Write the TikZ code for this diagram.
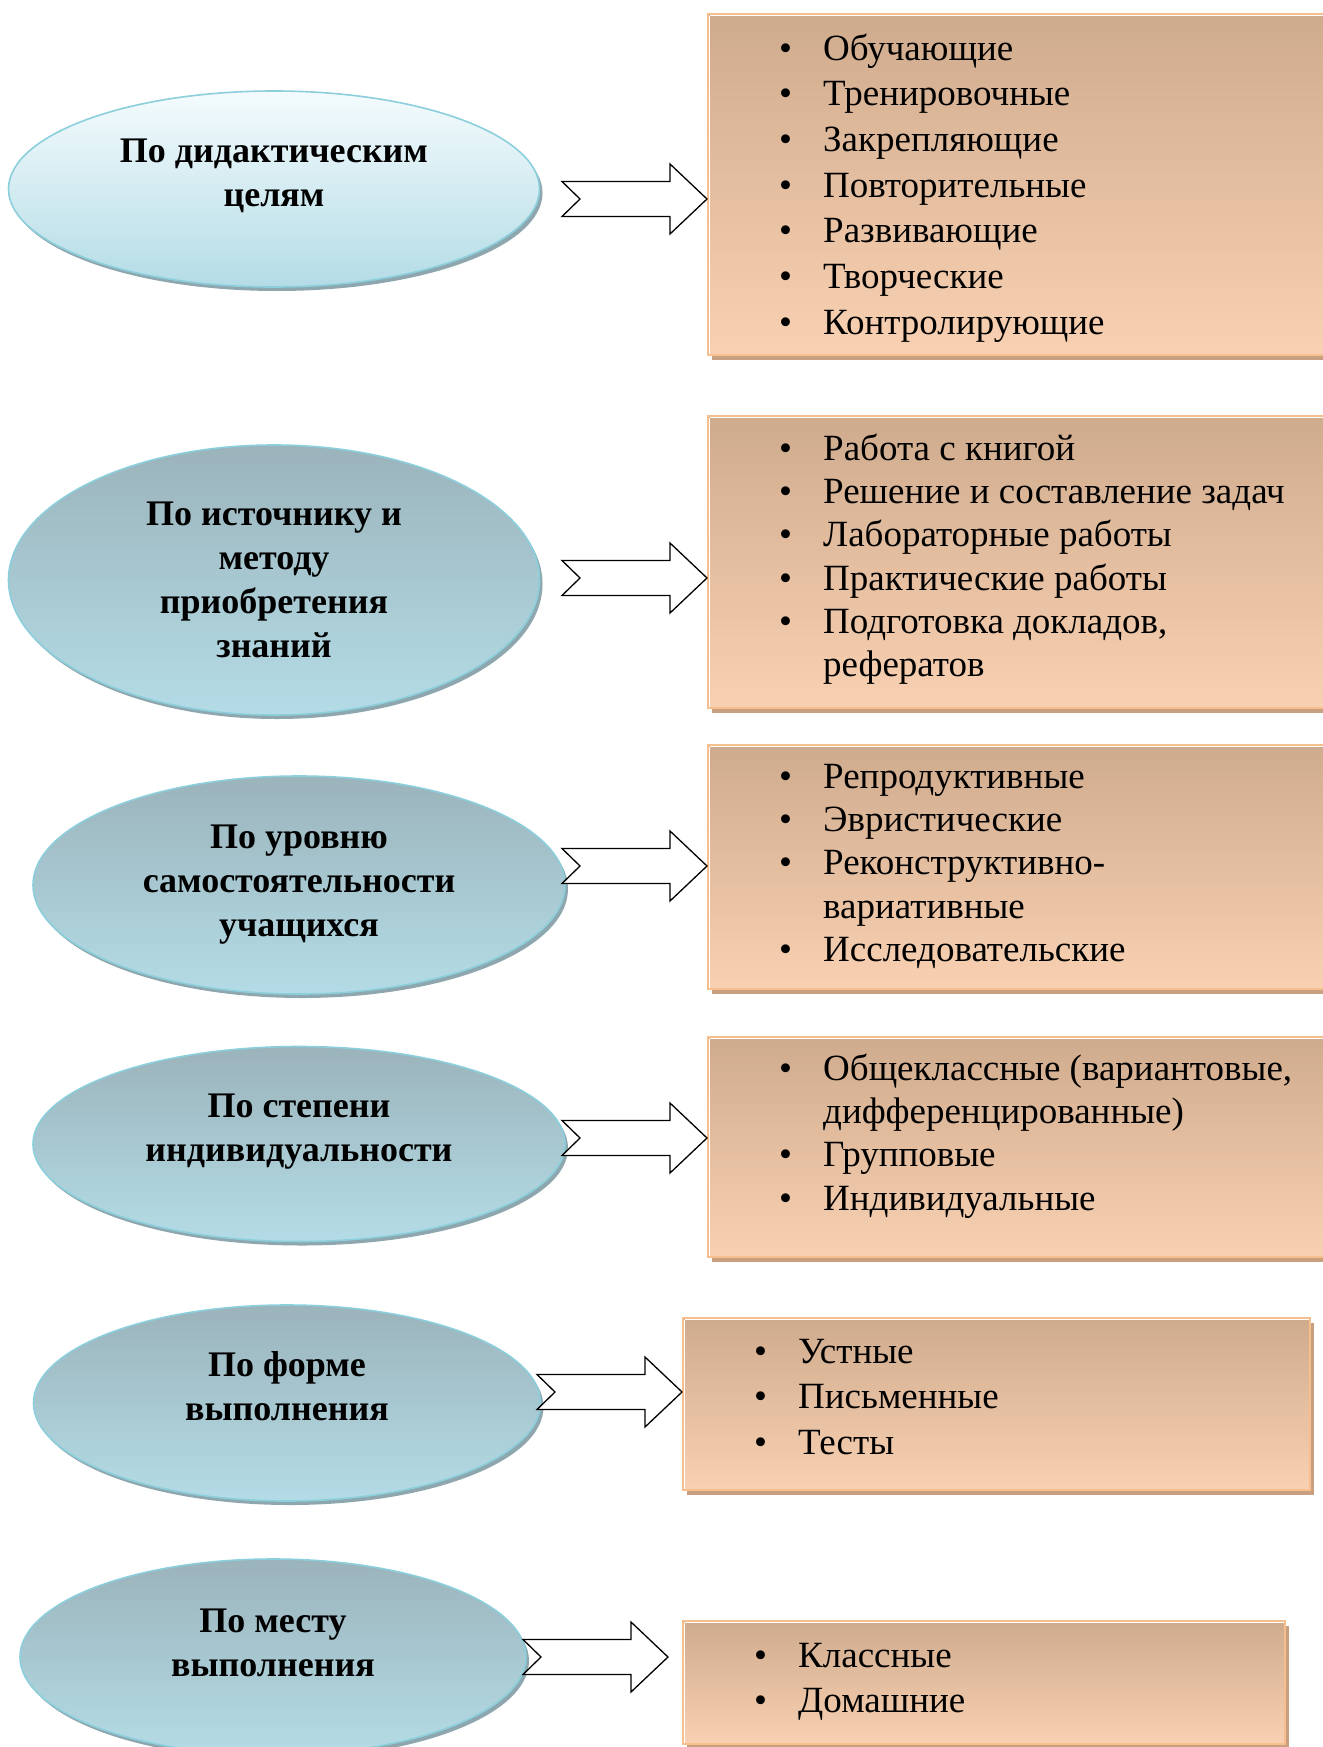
\documentclass[tikz,border=0pt]{standalone}
\usepackage{fontspec}
\setmainfont{Liberation Serif}
\usetikzlibrary{shapes.geometric,shadows,positioning,calc}
\definecolor{skyedge}{HTML}{8CCFDC}
\definecolor{skytop}{HTML}{9BB3BB}
\definecolor{skylite}{HTML}{F4FBFD}
\definecolor{skybot}{HTML}{B4DCE6}
\definecolor{skyshade}{HTML}{8EA6AE}
\definecolor{tantop}{HTML}{CFAB8D}
\definecolor{tanbot}{HTML}{F9D1B2}
\definecolor{tanedge}{HTML}{F8BF8E}
\definecolor{tanshade}{HTML}{C8A07F}
\tikzset{crit/.style={ellipse,draw=skyedge,line width=1.6pt,top color=skytop,bottom color=skybot,drop shadow={shadow xshift=3pt,shadow yshift=-4pt,opacity=1,fill=skyshade},align=center,font=\fontsize{36}{44}\selectfont\bfseries,inner sep=0pt},
twoline/.style={text height=74.8pt,text depth=39pt},
sorts/.style={draw=tanedge,line width=2.2pt,top color=tantop,bottom color=tanbot,drop shadow={shadow xshift=4pt,shadow yshift=-5pt,opacity=1,fill=tanshade},anchor=north west,inner sep=0pt,
  append after command={([shift={(2.6pt,2.6pt)}]\tikzlastnode.south west) edge[draw=white,line width=1.2pt] ([shift={(2.6pt,-2.6pt)}]\tikzlastnode.north west) ([shift={(2.6pt,-2.6pt)}]\tikzlastnode.north west) edge[draw=white,line width=1.2pt] ([shift={(-2.6pt,-2.6pt)}]\tikzlastnode.north east)}},
items/.style={anchor=north west,align=left,inner sep=0pt,font=\fontsize{37}{45.7}\selectfont},
tight/.style={font=\fontsize{37}{43.2}\selectfont},
fat/.style={draw=black,line width=1.3pt,fill=white,line join=miter},
notched/.pic={\draw[fat] (0,0) -- (-37,-35) -- (-37,-17.5) -- (-145,-17.5) -- (-127,0) -- (-145,17.5) -- (-37,17.5) -- (-37,35) -- cycle;}}
\newcommand{\itm}{\strut\makebox[44pt][l]{\textbullet}}
\newcommand{\cnt}{\strut\hspace*{44pt}}

\begin{document}
\begin{tikzpicture}[x=1pt,y=-1pt]
\fill[white] (0,0) rectangle (1322,1747);
\useasboundingbox (0,0) rectangle (1322,1747);
% criteria
\node[crit,twoline,top color=skylite,minimum width=531pt,minimum height=196pt] (e1) at (274,189) {По дидактическим\\целям};
\node[crit,minimum width=531pt,minimum height=270pt,text height=162.8pt,text depth=7pt] (e2) at (274,580) {По источнику и\\методу\\приобретения\\знаний};
\node[crit,minimum width=532pt,minimum height=218pt,text height=118.8pt,text depth=15pt] (e3) at (299,885) {По уровню\\самостоятельности\\учащихся};
\node[crit,twoline,minimum width=532pt,minimum height=195pt] (e4) at (299,1144) {По степени\\индивидуальности};
\node[crit,twoline,minimum width=507pt,minimum height=196pt] (e5) at (287,1403) {По форме\\выполнения};
\node[crit,twoline,minimum width=506pt,minimum height=196pt,text depth=35pt] (e6) at (273,1657) {По месту\\выполнения};
% kinds
\node[sorts,minimum width=640pt,minimum height=341pt] (b1) at (707,13) {};
\node[sorts,minimum width=640pt,minimum height=292pt] (b2) at (707,415) {};
\node[sorts,minimum width=640pt,minimum height=244pt] (b3) at (707,744) {};
\node[sorts,minimum width=640pt,minimum height=220pt] (b4) at (707,1036) {};
\node[sorts,minimum width=627pt,minimum height=172pt] (b5) at (682,1317) {};
\node[sorts,minimum width=602pt,minimum height=123pt] (b6) at (682,1620) {};
\node[items] (l1) at ([shift={(72,15)}]b1.north west) {\itm Обучающие\\\itm Тренировочные\\\itm Закрепляющие\\\itm Повторительные\\\itm Развивающие\\\itm Творческие\\\itm Контролирующие};
\node[items,tight] (l2) at ([shift={(72,15)}]b2.north west) {\itm Работа с книгой\\\itm Решение и составление задач\\\itm Лабораторные работы\\\itm Практические работы\\\itm Подготовка докладов,\\\cnt рефератов};
\node[items,tight] (l3) at ([shift={(72,14)}]b3.north west) {\itm Репродуктивные\\\itm Эвристические\\\itm Реконструктивно-\\\cnt вариативные\\\itm Исследовательские};
\node[items,tight] (l4) at ([shift={(72,14)}]b4.north west) {\itm Общеклассные (вариантовые,\\\cnt дифференцированные)\\\itm Групповые\\\itm Индивидуальные};
\node[items] (l5) at ([shift={(72,14)}]b5.north west) {\itm Устные\\\itm Письменные\\\itm Тесты};
\node[items] (l6) at ([shift={(72,15)}]b6.north west) {\itm Классные\\\itm Домашние};
% arrows
\pic (a1) at (b1.west |- 0,199) {notched};
\pic (a2) at (b2.west |- 0,578) {notched};
\pic (a3) at (b3.west |- 0,866) {notched};
\pic (a4) at (b4.west |- 0,1138) {notched};
\pic (a5) at (b5.west |- 0,1392) {notched};
\pic (a6) at ([xshift=-14pt]b6.west |- 0,1657) {notched};
\end{tikzpicture}
\end{document}
